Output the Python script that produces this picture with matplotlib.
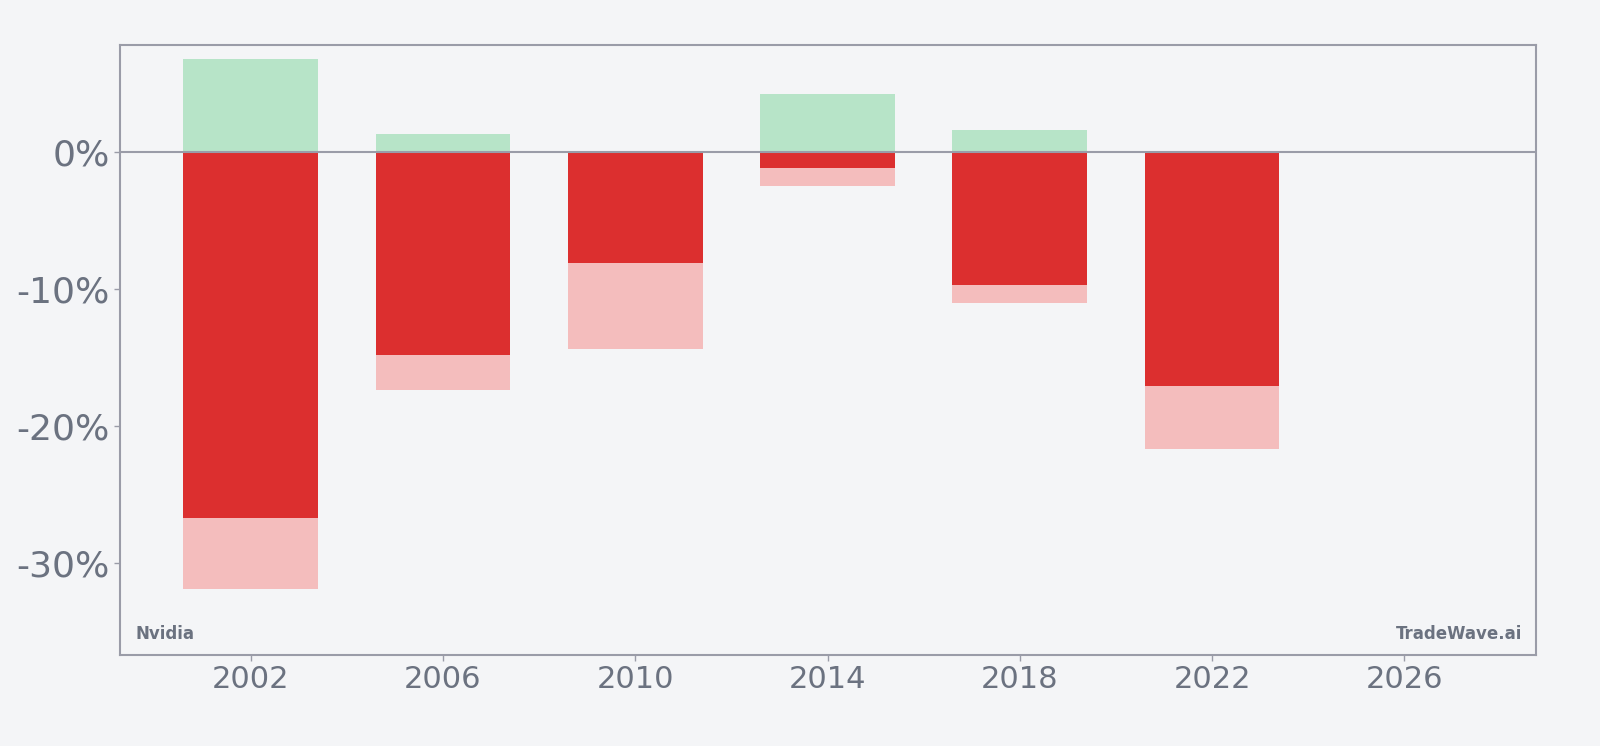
import matplotlib.pyplot as plt
from matplotlib.ticker import FuncFormatter

# valores (%)
anos = [2002, 2006, 2010, 2014, 2018, 2022]
alta_max = [6.8, 1.3, 0.0, 4.2, 1.6, 0.0]
queda_final = [-26.7, -14.8, -8.1, -1.2, -9.7, -17.1]
queda_max = [-31.9, -17.4, -14.4, -2.5, -11.0, -21.7]

FUNDO = "#f4f5f7"
TEXTO = "#6b7280"
BORDA = "#9a9ca8"

fig = plt.figure(figsize=(16, 7.46), dpi=100, facecolor=FUNDO)
ax = fig.add_axes([120 / 1600, 1 - 655 / 746, (1536 - 120) / 1600, (655 - 45) / 746])
ax.set_facecolor(FUNDO)

largura = 2.8
ax.bar(anos, alta_max, width=largura, color="#b7e4c8", zorder=2)
ax.bar(anos, queda_max, width=largura, color="#f4bdbd", zorder=2)
ax.bar(anos, queda_final, width=largura, color="#dc2f2f", zorder=3)
ax.axhline(0, color=BORDA, linewidth=1.5, zorder=4)

ax.set_xlim(1999.28, 2028.74)
ax.set_ylim(-36.7, 7.8)
ax.set_xticks([2002, 2006, 2010, 2014, 2018, 2022, 2026])
ax.set_yticks([0, -10, -20, -30])
ax.yaxis.set_major_formatter(FuncFormatter(lambda v, _: f"{v:.0f}%"))
ax.tick_params(colors=TEXTO, length=4, width=1)
ax.tick_params(axis="both", color=BORDA)
ax.tick_params(axis="x", labelsize=22)
ax.tick_params(axis="y", labelsize=26)
for s in ax.spines.values():
    s.set_color(BORDA)
    s.set_linewidth(1.5)

ax.text(0.011, 0.02, "Nvidia", transform=ax.transAxes, fontsize=12,
        fontweight="bold", color=TEXTO, ha="left", va="bottom")
ax.text(0.99, 0.02, "TradeWave.ai", transform=ax.transAxes, fontsize=12,
        fontweight="bold", color=TEXTO, ha="right", va="bottom")

fig.savefig("out.png", dpi=100, facecolor=FUNDO)
